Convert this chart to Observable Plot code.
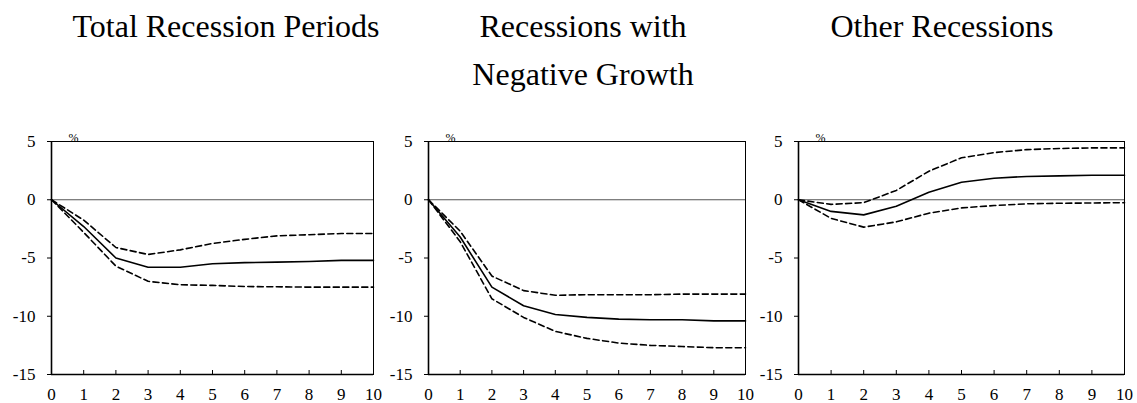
<!DOCTYPE html>
<html>
<head>
<meta charset="utf-8">
<script src="https://cdn.jsdelivr.net/npm/d3@7"></script>
<script src="https://cdn.jsdelivr.net/npm/@observablehq/plot@0.6"></script>
<style>
  body { margin: 0; background: #fff; font-family: "Liberation Serif", "DejaVu Serif", serif; }
  #wrap { position: relative; width: 1137px; height: 403px; overflow: hidden; }
  .title { position: absolute; font-size: 32px; text-align: center; line-height: 48px; color: #000; transform: translateX(-50%); white-space: nowrap; }
  svg.panel { position: absolute; top: 120px; overflow: visible !important; font-family: "Liberation Serif", serif !important; }
  svg.panel text { font-family: "Liberation Serif", serif !important; }
</style>
</head>
<body>
<div id="wrap"></div>
<script>
const horizon = [0, 1, 2, 3, 4, 5, 6, 7, 8, 9, 10];
const xTicks = [0, 1, 2, 3, 4, 5, 6, 7, 8, 9, 10];
const yTicks = [5, 0, -5, -10, -15];

const titles = ["Total Recession Periods", "Recessions with\nNegative Growth", "Other Recessions"];

const totalMid   = [0, -2.3, -5.0, -5.8, -5.8, -5.5, -5.4, -5.35, -5.3, -5.2, -5.2];
const totalUpper = [0, -1.75, -4.1, -4.7, -4.3, -3.75, -3.4, -3.1, -3.0, -2.9, -2.9];
const totalLower = [0, -2.8, -5.7, -7.0, -7.3, -7.35, -7.45, -7.47, -7.5, -7.5, -7.5];

const negMid   = [0, -3.2, -7.5, -9.1, -9.85, -10.1, -10.25, -10.3, -10.3, -10.4, -10.4];
const negUpper = [0, -2.7, -6.55, -7.8, -8.2, -8.15, -8.15, -8.15, -8.1, -8.1, -8.1];
const negLower = [0, -3.6, -8.5, -10.1, -11.3, -11.9, -12.3, -12.5, -12.6, -12.7, -12.7];

const otherMid   = [0, -1.0, -1.3, -0.55, 0.65, 1.5, 1.85, 2.0, 2.05, 2.1, 2.1];
const otherUpper = [0, -0.4, -0.25, 0.8, 2.45, 3.6, 4.05, 4.3, 4.4, 4.45, 4.45];
const otherLower = [0, -1.6, -2.35, -1.9, -1.15, -0.7, -0.5, -0.35, -0.3, -0.28, -0.25];

const panels = [
  {mid: totalMid, up: totalUpper, lo: totalLower, left: 0, ml: 51, mr: 7, tx: 226},
  {mid: negMid, up: negUpper, lo: negLower, left: 380, ml: 48, mr: 15, tx: 583},
  {mid: otherMid, up: otherUpper, lo: otherLower, left: 757, ml: 41, mr: 13, tx: 942}
];

const wrap = document.getElementById("wrap");
const H = 283, MT = 21, MB = 29, W = 380;

panels.forEach((p, i) => {
  const t = document.createElement("div");
  t.className = "title";
  t.style.left = p.tx + "px";
  t.style.top = "2px";
  t.innerHTML = titles[i].replace("\n", "<br>");
  wrap.appendChild(t);

  const rows = s => horizon.map((h, k) => ({h, v: s[k]}));
  const plotH = H - MT - MB;
  const chart = Plot.plot({
    width: W, height: H,
    marginLeft: p.ml, marginRight: p.mr, marginTop: MT, marginBottom: MB,
    style: {fontFamily: "Liberation Serif, serif", fontSize: "17px", color: "#000", background: "transparent", overflow: "visible"},
    x: {domain: [0, 10]},
    y: {domain: [-15, 5]},
    marks: [
      Plot.ruleY([0], {stroke: "#555", strokeWidth: 1}),
      Plot.frame({stroke: "#000", strokeWidth: 1}),
      Plot.ruleX([0], {stroke: "#000", strokeWidth: 1.6}),
      Plot.ruleY([-15], {stroke: "#000", strokeWidth: 1.6}),
      Plot.axisY(yTicks, {tickSize: 4, tickPadding: 12, label: null, fontSize: 17, tickFormat: d => d < 0 ? "-" + Math.abs(d) : String(d)}),
      Plot.axisX(xTicks, {tickSize: 0, tickPadding: 13, label: null, fontSize: 17}),
      Plot.ruleX(xTicks, {x: d => d, insetTop: plotH - 4, stroke: "#000"}),
      Plot.line(rows(p.up), {x: "h", y: "v", stroke: "#000", strokeWidth: 1.6, strokeDasharray: "6,3.5"}),
      Plot.line(rows(p.lo), {x: "h", y: "v", stroke: "#000", strokeWidth: 1.6, strokeDasharray: "6,3.5"}),
      Plot.line(rows(p.mid), {x: "h", y: "v", stroke: "#000", strokeWidth: 1.6}),
      Plot.text(["%"], {frameAnchor: "top-left", dx: 17, dy: -8, fontSize: 12, fill: "#000"})
    ]
  });
  chart.classList.add("panel");
  chart.style.left = p.left + "px";
  wrap.appendChild(chart);
});
</script>
</body>
</html>
